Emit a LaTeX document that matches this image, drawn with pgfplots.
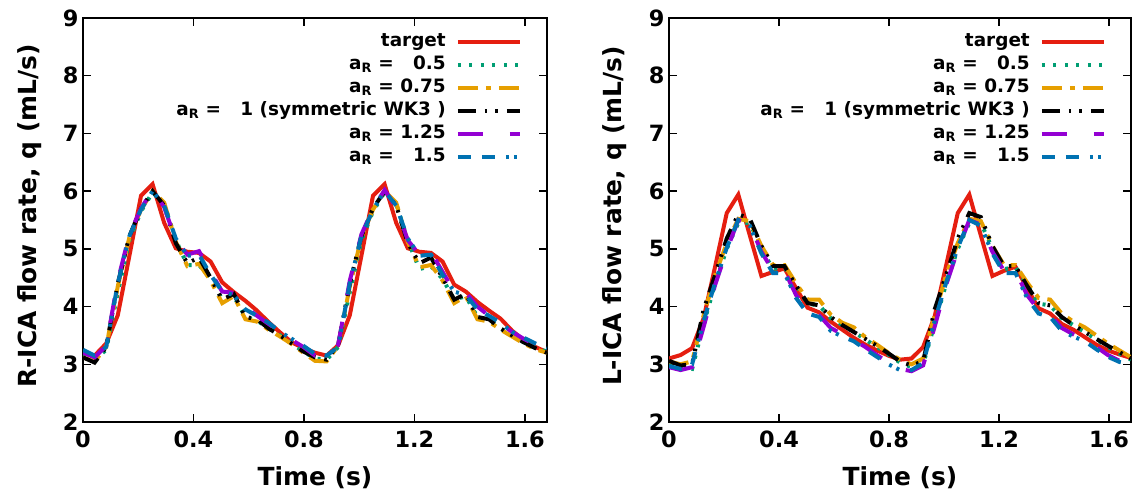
\documentclass[border=0pt]{standalone}
\usepackage{fontspec}
\setmainfont{DejaVu Sans}
\usepackage{pgfplots}
\usepackage{pgfplotstable}
\pgfplotsset{compat=1.18}

\definecolor{cred}{RGB}{229,30,16}
\definecolor{cgreen}{RGB}{0,158,115}
\definecolor{corange}{RGB}{230,159,0}
\definecolor{cpurple}{RGB}{148,0,211}
\definecolor{cblue}{RGB}{0,114,178}

\pgfplotstableread{
t tg g o k p b
0.000 3.20 3.15 3.12 3.12 3.20 3.25
0.042 3.15 3.08 3.05 3.03 3.12 3.15
0.084 3.36 3.25 3.30 3.30 3.32 3.30
0.126 3.85 4.25 4.35 4.40 4.45 4.40
0.168 4.88 5.15 5.20 5.22 5.25 5.22
0.210 5.92 5.65 5.68 5.70 5.70 5.68
0.252 6.12 5.98 6.00 6.00 6.02 6.00
0.294 5.45 5.78 5.80 5.75 5.72 5.75
0.336 5.01 5.15 5.12 5.10 5.15 5.18
0.378 4.95 4.72 4.70 4.75 4.90 4.88
0.420 4.93 4.72 4.74 4.85 4.96 4.90
0.462 4.78 4.50 4.45 4.50 4.60 4.55
0.504 4.42 4.12 4.06 4.12 4.26 4.26
0.546 4.25 4.18 4.18 4.22 4.24 4.20
0.588 4.10 3.82 3.78 3.82 4.00 3.95
0.630 3.93 3.76 3.74 3.78 3.84 3.84
0.672 3.73 3.62 3.60 3.62 3.70 3.72
0.714 3.55 3.50 3.48 3.50 3.56 3.56
0.756 3.38 3.36 3.35 3.36 3.42 3.44
0.798 3.28 3.22 3.20 3.22 3.30 3.32
0.840 3.20 3.10 3.06 3.12 3.15 3.18
0.882 3.15 3.08 3.05 3.08 3.12 3.15
0.924 3.33 3.30 3.32 3.34 3.34 3.30
0.966 3.85 4.25 4.35 4.40 4.45 4.40
1.008 4.88 5.15 5.20 5.22 5.25 5.22
1.050 5.92 5.65 5.68 5.70 5.70 5.68
1.092 6.12 5.98 6.00 6.00 6.02 6.00
1.134 5.45 5.78 5.80 5.75 5.72 5.75
1.176 5.01 5.15 5.12 5.10 5.15 5.18
1.218 4.95 4.65 4.68 4.75 4.90 4.88
1.260 4.93 4.70 4.72 4.85 4.95 4.90
1.302 4.78 4.48 4.45 4.50 4.60 4.55
1.344 4.38 4.12 4.06 4.12 4.26 4.26
1.386 4.26 4.18 4.18 4.22 4.24 4.20
1.428 4.08 3.82 3.78 3.82 4.00 3.95
1.470 3.93 3.76 3.74 3.78 3.84 3.84
1.512 3.79 3.62 3.60 3.62 3.70 3.72
1.554 3.58 3.50 3.48 3.50 3.56 3.56
1.596 3.42 3.38 3.36 3.38 3.44 3.46
1.638 3.30 3.28 3.26 3.28 3.34 3.36
1.680 3.21 3.22 3.20 3.20 3.26 3.28
}\rica

\pgfplotstableread{
t tg g o k p b
0.000 3.10 3.00 3.05 3.06 2.95 2.97
0.042 3.16 2.95 3.00 2.98 2.90 2.92
0.084 3.28 2.92 3.05 3.00 2.95 3.00
0.126 3.80 3.70 3.85 3.95 3.65 3.75
0.168 4.70 4.40 4.55 4.55 4.38 4.42
0.210 5.62 5.00 5.10 5.18 4.98 5.02
0.252 5.94 5.45 5.52 5.60 5.50 5.50
0.294 5.23 5.45 5.48 5.52 5.42 5.40
0.336 4.53 5.00 5.05 5.05 4.95 4.92
0.378 4.60 4.65 4.72 4.70 4.62 4.58
0.420 4.66 4.68 4.72 4.70 4.62 4.58
0.462 4.32 4.38 4.40 4.36 4.20 4.15
0.504 3.98 4.05 4.12 4.06 3.94 3.88
0.546 3.90 4.02 4.12 4.02 3.85 3.82
0.588 3.74 3.80 3.86 3.82 3.63 3.58
0.630 3.60 3.68 3.72 3.68 3.52 3.48
0.672 3.46 3.56 3.64 3.56 3.42 3.40
0.714 3.34 3.43 3.47 3.44 3.30 3.26
0.756 3.24 3.30 3.34 3.32 3.16 3.13
0.798 3.15 3.17 3.20 3.19 3.03 3.00
0.840 3.08 3.03 3.08 3.05 2.92 2.90
0.882 3.10 2.95 3.00 2.98 2.88 2.90
0.924 3.30 3.00 3.10 3.05 2.98 3.02
0.966 3.83 3.70 3.85 3.95 3.65 3.75
1.008 4.72 4.40 4.55 4.55 4.38 4.42
1.050 5.62 5.00 5.10 5.18 4.98 5.02
1.092 5.94 5.45 5.52 5.62 5.50 5.50
1.134 5.23 5.45 5.48 5.55 5.42 5.40
1.176 4.53 5.00 5.05 5.05 4.95 4.92
1.218 4.62 4.65 4.72 4.70 4.62 4.58
1.260 4.69 4.68 4.72 4.70 4.62 4.58
1.302 4.32 4.38 4.42 4.36 4.20 4.15
1.344 3.97 4.05 4.15 4.06 3.94 3.88
1.386 3.88 4.02 4.12 4.02 3.85 3.82
1.428 3.70 3.80 3.88 3.82 3.63 3.58
1.470 3.60 3.68 3.74 3.68 3.52 3.48
1.512 3.47 3.56 3.64 3.56 3.42 3.40
1.554 3.34 3.43 3.50 3.44 3.30 3.26
1.596 3.24 3.30 3.36 3.32 3.16 3.13
1.638 3.17 3.19 3.24 3.21 3.06 3.04
1.680 3.11 3.08 3.12 3.10 2.98 3.00
}\lica

\pgfplotsset{
  panel/.style={
    scale only axis, anchor=south west, height=404bp,
    xmin=0, xmax=1.68, ymin=2, ymax=9,
    xtick={0,0.4,0.8,1.2,1.6}, xticklabels={0,0.4,0.8,1.2,1.6},
    ytick={2,3,4,5,6,7,8,9},
    tick align=inside, tick pos=both,
    major tick length=8bp,
    every tick/.style={black, line width=1.5bp},
    axis line style={line width=1.7bp},
    /pgf/number format/assume math mode=true,
    ticklabel style={font=\fontsize{22.5}{22.5}\selectfont\bfseries},
    xticklabel style={yshift=-5bp},
    yticklabel style={xshift=-1bp},
    label style={font=\fontsize{25}{25}\selectfont\bfseries},
    xlabel style={at={(axis description cs:0.5,-0.139)}, anchor=center},
    xlabel={Time (s)},
    legend cell align=right,
    legend plot pos=right,
    legend image code/.code={\path (0bp,0bp); \draw[##1] (8bp,0bp) -- (70bp,0bp);},
    legend style={at={(axis description cs:1,1)}, anchor=north east,
      xshift=-25bp, yshift=-13bp, draw=none, fill=none, inner sep=0pt,
      font=\fontsize{18.5}{18.5}\selectfont\bfseries, row sep=2bp,
      nodes={text height=13bp, text depth=4bp, inner sep=2bp}},
  },
  s0/.style={cred, line width=4bp},
  s1/.style={cgreen, line width=4bp, dash pattern=on 3bp off 8.5bp},
  s2/.style={corange, line width=4bp, dash pattern=on 20bp off 8bp on 5bp off 8bp},
  s3/.style={black, line width=4bp, dash pattern=on 18bp off 9bp on 2.5bp off 8bp on 2.5bp off 9bp},
  s4/.style={cpurple, line width=4bp, dash pattern=on 25bp off 27bp},
  s5/.style={cblue, line width=4bp, dash pattern=on 13bp off 11bp on 13bp off 11bp on 3bp off 5bp on 3bp off 11bp},
}

\begin{document}
\begin{tikzpicture}
\useasboundingbox (0,0) rectangle (1141bp,498bp);
\begin{axis}[panel, at={(83bp,76bp)}, width=464bp,
  ylabel={R-ICA flow rate, q (mL/s)},
  ylabel style={at={(axis description cs:-0.114,0.51)}, anchor=center}]
\addplot[s0] table[x=t,y=tg]{\rica};
\addlegendentry{target}
\addplot[s1] table[x=t,y=g]{\rica};
\addlegendentry{a\textsubscript{R} = \hphantom{0}0.5}
\addplot[s2] table[x=t,y=o]{\rica};
\addlegendentry{a\textsubscript{R} = 0.75}
\addplot[s3] table[x=t,y=k]{\rica};
\addlegendentry{a\textsubscript{R} = \hphantom{0}1 (symmetric WK3 )}
\addplot[s4] table[x=t,y=p]{\rica};
\addlegendentry{a\textsubscript{R} = 1.25}
\addplot[s5] table[x=t,y=b]{\rica};
\addlegendentry{a\textsubscript{R} = \hphantom{0}1.5}
\end{axis}
\begin{axis}[panel, at={(669bp,76bp)}, width=462bp,
  ylabel={L-ICA flow rate, q (mL/s)},
  ylabel style={at={(axis description cs:-0.117,0.51)}, anchor=center}]
\addplot[s0] table[x=t,y=tg]{\lica};
\addlegendentry{target}
\addplot[s1] table[x=t,y=g]{\lica};
\addlegendentry{a\textsubscript{R} = \hphantom{0}0.5}
\addplot[s2] table[x=t,y=o]{\lica};
\addlegendentry{a\textsubscript{R} = 0.75}
\addplot[s3] table[x=t,y=k]{\lica};
\addlegendentry{a\textsubscript{R} = \hphantom{0}1 (symmetric WK3 )}
\addplot[s4] table[x=t,y=p]{\lica};
\addlegendentry{a\textsubscript{R} = 1.25}
\addplot[s5] table[x=t,y=b]{\lica};
\addlegendentry{a\textsubscript{R} = \hphantom{0}1.5}
\end{axis}
\end{tikzpicture}
\end{document}
